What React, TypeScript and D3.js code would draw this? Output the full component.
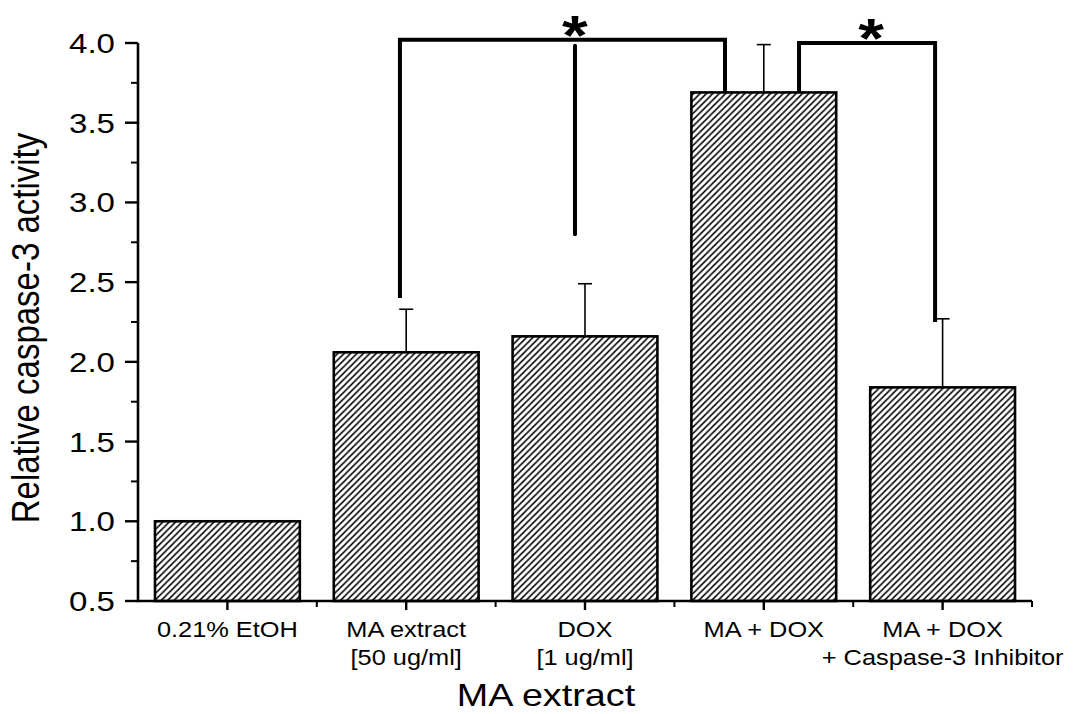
import React from "react";
import * as d3 from "d3";

// Treatment groups (two-line tick labels)
const groupLine1 = ["0.21% EtOH", "MA extract", "DOX", "MA + DOX", "MA + DOX"];
const groupLine2 = ["", "[50 ug/ml]", "[1 ug/ml]", "", "+ Caspase-3 Inhibitor"];

// Relative caspase-3 activity (mean) and upper error
const meanActivity = [1.0, 2.06, 2.16, 3.69, 1.84];
const errorActivity = [0, 0.27, 0.33, 0.3, 0.43];

// Y axis ticks
const yMajorTicks = [0.5, 1.0, 1.5, 2.0, 2.5, 3.0, 3.5, 4.0];
const yMinorTicks = [0.75, 1.25, 1.75, 2.25, 2.75, 3.25, 3.75];

// Significance brackets: legs given on a continuous group coordinate
const bracketLeft = [0.965, 3.197];
const bracketRight = [2.783, 3.958];
const bracketLeftEnd = [2.4, 3.69];
const bracketRightEnd = [3.69, 2.25];
const bracketTop = [4.02, 4.0];
const bracketMidX = [1.944, null];
const bracketMidEnd = [2.8, null];
const starX = [1.944, 3.6];

const W = 1086;
const H = 714;
const FONT = "'Liberation Sans', Arial, Helvetica, sans-serif";
const SX = 1.18;

const x0 = 138;
const x1 = 1032;
const yTop = 43;
const yBottom = 601;

function SText(props: {
  x: number;
  y: number;
  size: number;
  anchor?: string;
  weight?: string | number;
  rotate?: number;
  children: React.ReactNode;
}) {
  const { x, y, size, anchor = "middle", weight = "normal", rotate = 0, children } = props;
  return (
    <text
      transform={`translate(${x},${y}) scale(${SX},1) rotate(${rotate})`}
      fontSize={size}
      fontFamily={FONT}
      fontWeight={weight}
      textAnchor={anchor}
      fill="#000"
    >
      {children}
    </text>
  );
}

export default function App() {
  const idx = meanActivity.map((_, i) => i);
  const x = d3
    .scaleBand<number>()
    .domain(idx)
    .range([x0, x1])
    .paddingInner(0.19)
    .paddingOuter(0.095);
  const xc = d3.scaleLinear().domain([-0.5, 4.5]).range([x0, x1]);
  const y = d3.scaleLinear().domain([0.5, 4.0]).range([yBottom, yTop]);
  const bw = x.bandwidth();
  const center = (i: number) => (x(i) as number) + bw / 2;

  const bracketPaths = bracketLeft.map((l, i) => {
    const p = d3.path();
    p.moveTo(xc(l), y(bracketLeftEnd[i]));
    p.lineTo(xc(l), y(bracketTop[i]));
    p.lineTo(xc(bracketRight[i]), y(bracketTop[i]));
    p.lineTo(xc(bracketRight[i]), y(bracketRightEnd[i]));
    return p.toString();
  });

  return (
    <svg
      width={W}
      height={H}
      style={{ position: "absolute", left: 0, top: 0, background: "#fff" }}
    >
      <defs>
        <pattern id="hatch" patternUnits="userSpaceOnUse" width={6.4} height={6.4}>
          <path
            d="M-1.6,1.6 L1.6,-1.6 M0,6.4 L6.4,0 M4.8,8 L8,4.8"
            stroke="#000"
            strokeWidth={1.5}
          />
        </pattern>
      </defs>
      <rect width={W} height={H} fill="#fff" />

      {/* bars */}
      {idx.map((i) => (
        <rect
          key={`bar${i}`}
          x={x(i)}
          y={y(meanActivity[i])}
          width={bw}
          height={y(0.5) - y(meanActivity[i])}
          fill="url(#hatch)"
          stroke="#000"
          strokeWidth={2.6}
        />
      ))}

      {/* error bars (upper only) */}
      {idx
        .filter((i) => errorActivity[i] > 0)
        .map((i) => {
          const cx = center(i);
          const yt = y(meanActivity[i] + errorActivity[i]);
          return (
            <g key={`err${i}`} stroke="#000" strokeWidth={1.6}>
              <line x1={cx} x2={cx} y1={y(meanActivity[i])} y2={yt} />
              <line x1={cx - 7} x2={cx + 7} y1={yt} y2={yt} />
            </g>
          );
        })}

      {/* significance brackets */}
      {bracketPaths.map((d, i) => (
        <path
          key={`br${i}`}
          d={d}
          fill="none"
          stroke="#000"
          strokeWidth={4}
          strokeLinejoin="miter"
        />
      ))}
      {bracketMidX.map((m, i) =>
        m === null ? null : (
          <line
            key={`mid${i}`}
            x1={xc(m)}
            x2={xc(m)}
            y1={y(bracketTop[i]) + 6}
            y2={y(bracketMidEnd[i] as number)}
            stroke="#000"
            strokeWidth={4}
            strokeLinecap="round"
          />
        )
      )}
      {starX.map((s, i) => (
        <SText key={`star${i}`} x={xc(s)} y={y(bracketTop[i]) + 14} size={56} weight="bold">
          *
        </SText>
      ))}

      {/* axes */}
      <line x1={x0} x2={x0} y1={yTop} y2={yBottom} stroke="#000" strokeWidth={2.6} />
      <line x1={x0 - 1.3} x2={x1} y1={yBottom} y2={yBottom} stroke="#000" strokeWidth={2.6} />

      {yMajorTicks.map((t) => (
        <g key={`ym${t}`}>
          <line x1={x0 - 13} x2={x0} y1={y(t)} y2={y(t)} stroke="#000" strokeWidth={2.4} />
          <SText x={x0 - 23} y={y(t) + 10} size={28} anchor="end">
            {t.toFixed(1)}
          </SText>
        </g>
      ))}
      {yMinorTicks.map((t) => (
        <line key={`yn${t}`} x1={x0 - 7} x2={x0} y1={y(t)} y2={y(t)} stroke="#000" strokeWidth={2} />
      ))}

      {idx.map((i) => (
        <line
          key={`xm${i}`}
          x1={center(i)}
          x2={center(i)}
          y1={yBottom}
          y2={yBottom + 9}
          stroke="#000"
          strokeWidth={2.4}
        />
      ))}
      {[1, 2, 3, 4, 5].map((k) => (
        <line
          key={`xn${k}`}
          x1={xc(k - 0.5)}
          x2={xc(k - 0.5)}
          y1={yBottom}
          y2={yBottom + 6}
          stroke="#000"
          strokeWidth={2}
        />
      ))}

      {/* category labels */}
      {idx.map((i) => (
        <g key={`lab${i}`}>
          <SText x={center(i)} y={637} size={21.5}>
            {groupLine1[i]}
          </SText>
          {groupLine2[i] && (
            <SText x={center(i)} y={665} size={21.5}>
              {groupLine2[i]}
            </SText>
          )}
        </g>
      ))}

      {/* axis titles */}
      <SText x={546} y={706} size={32}>
        MA extract
      </SText>
      <SText x={39} y={328} size={33} rotate={-90}>
        Relative caspase-3 activity
      </SText>
    </svg>
  );
}
